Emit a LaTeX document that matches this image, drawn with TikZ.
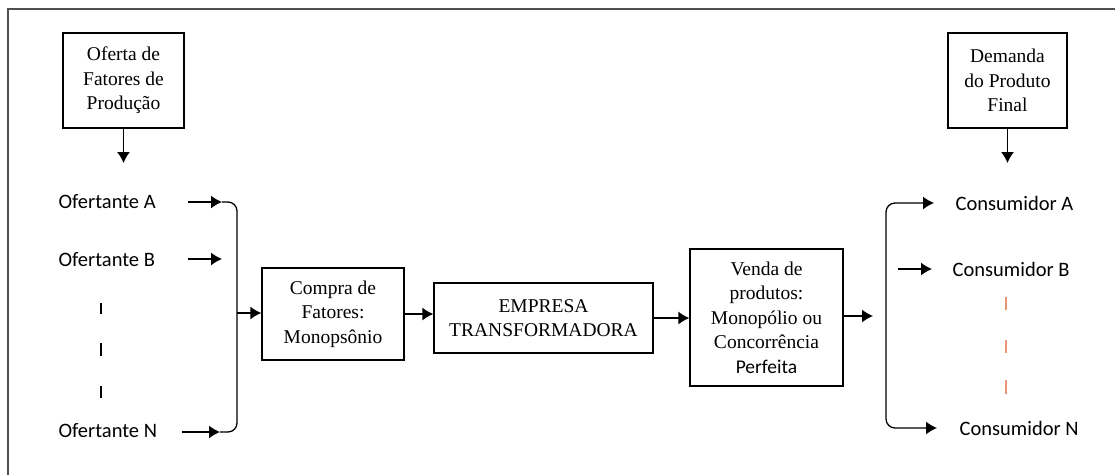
\documentclass[tikz,border=0pt]{standalone}
\usepackage{fontspec}
\setmainfont{Liberation Serif}
\newfontfamily\calibri{Carlito}
\usetikzlibrary{arrows.meta,positioning}

\definecolor{framegray}{RGB}{80,80,80}
\definecolor{dashsalmon}{RGB}{232,150,115}

\begin{document}
\begin{tikzpicture}[x=1pt, y=-1pt, line width=1.3pt,
	arr/.style={-{Latex[length=11pt,width=13pt]}},
	box/.style={draw, align=center, inner sep=0pt, font=\rmfamily\fontsize{19.5}{24.5}\selectfont},
	agent/.style={anchor=west, inner sep=0pt, font=\calibri\fontsize{20.5}{24}\selectfont},
	tick/.style={line width=1.5pt}]
	\useasboundingbox (0,0) rectangle (1115,475);

	% Frame (only top and left side)
	\draw [framegray, line width=2pt] (1115,9) -- (8,9) -- (8,475);

	% Boxes
	\node [box, minimum width=121pt, minimum height=95pt] (oferta)  at (123.5,80.5)  {Oferta de\\Fatores de\\Produção};
	\node [box, minimum width=119pt, minimum height=95pt] (demanda) at (1007.5,80.5) {Demanda\\do Produto\\Final};
	\node [box, minimum width=142pt, minimum height=92pt] (compra)  at (333,314)     {Compra de\\Fatores:\\Monopsônio};
	\node [box, minimum width=219pt, minimum height=70pt] (empresa) at (543.5,318)   {EMPRESA\\TRANSFORMADORA};
	\node [box, minimum width=153pt, minimum height=137pt] (venda)  at (766.5,317.5) {Venda de\\produtos:\\Monopólio ou\\Concorrência\\{\calibri Perfeita}};

	% Ofertantes and consumidores
	\node [agent] (ofA)  at (58,202) {Ofertante A};
	\node [agent] (ofB)  at (58,260) {Ofertante B};
	\node [agent] (ofN)  at (58,431) {Ofertante N};
	\node [agent] (conA) at (955,203) {Consumidor A};
	\node [agent] (conB) at (952,269) {Consumidor B};
	\node [agent] (conN) at (959,428) {Consumidor N};

	% Free ends
	\coordinate (ofTip)  at (123.5,163);
	\coordinate (demTip) at (1007.5,163);
	\coordinate (inA)    at (222,202);
	\coordinate (inB)    at (222,259);
	\coordinate (inN)    at (220,432);
	\coordinate (join)   at (237,313);
	\coordinate (vendaTip) at (873,316);
	\coordinate (split)  at (886,316);
	\coordinate (outA)   at (934,203);
	\coordinate (outB)   at (932,269);
	\coordinate (outN)   at (937,428);

	% Paths
	\draw [arr] (oferta) -- (ofTip);
	\draw [arr] (demanda) -- (demTip);
	\draw [arr] (188,202) -- (inA);
	\draw [arr] (188,259) -- (inB);
	\draw [arr] (182,432) -- (inN);
	\draw [rounded corners=9pt] (inA) -| (join) |- (inN);
	\draw [arr] (join) -- (join -| compra.west);
	\draw [arr] (compra.east) -- (compra.east -| empresa.west);
	\draw [arr] (empresa.east) -- (empresa.east -| venda.west);
	\draw [arr] (venda.east |- vendaTip) -- (vendaTip);
	\draw [arr, rounded corners=9pt] (split) |- (outA);
	\draw [arr, rounded corners=9pt] (split) |- (outN);
	\draw [arr] (898,269) -- (outB);

	% Ellipsis dashes
	\foreach \ya/\yb in {303/314, 343/356, 386/398}
		\draw [tick] (101,\ya) -- (101,\yb);
	\foreach \ya/\yb in {297/310, 340/353, 380/394}
		\draw [tick, dashsalmon] (1006,\ya) -- (1006,\yb);

\end{tikzpicture}
\end{document}
